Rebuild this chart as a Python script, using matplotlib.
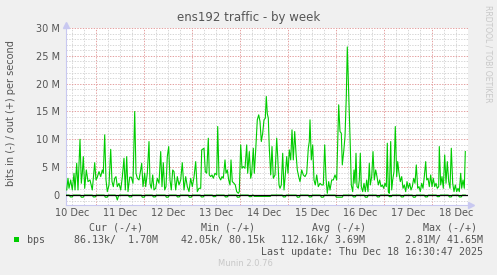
import matplotlib
matplotlib.use("Agg")
import matplotlib.pyplot as plt
from matplotlib.patches import Rectangle

# hours since 10 Dec 00:00, traffic in Mbit/s
out_hours = [9.2, 9.85, 10.35, 11.2, 12.0, 12.85, 13.35, 14.2, 14.85, 15.85, 16.5, 17.0, 17.5, 18.2,
             19.0, 19.85, 20.85, 22.0, 23.2, 23.85, 24.5, 25.35, 26.2, 27.0, 27.5, 28.2, 28.85, 29.5,
             30.35, 31.2, 31.85, 32.5, 33.2, 33.85, 34.5, 35.35, 36.2, 37.0, 37.85, 38.5, 39.2, 39.85,
             40.7, 41.5, 42.35, 43.2, 43.85, 44.5, 45.35, 46.2, 46.7, 47.35, 48.2, 48.7, 49.5, 50.35,
             50.85, 51.5, 52.2, 52.85, 53.7, 54.5, 55.35, 56.2, 56.85, 57.5, 58.2, 58.85, 59.5, 60.2,
             60.85, 61.5, 62.2, 62.85, 63.7, 64.5, 65.35, 66.2, 67.0, 67.85, 68.7, 69.5, 70.35, 71.2,
             72.0, 72.85, 73.7, 74.5, 75.35, 76.2,
             76.7, 77.85, 78.5, 79.2, 80.0, 80.5, 81.2, 81.85, 82.5, 83.35, 84.2, 84.7, 85.35, 86.2,
             86.85, 87.5, 88.35, 88.85, 89.5, 90.2, 90.85, 91.35, 92.0, 92.85, 93.5, 94.2, 95.0, 95.5,
             96.2, 96.85, 97.5, 98.35, 99.2, 99.7, 100.5, 101.2, 101.7, 102.5, 103.0, 103.7, 104.5,
             105.2, 105.85, 106.5, 107.2, 107.85, 108.5, 109.0, 109.5, 110.0, 110.5, 111.2, 111.85,
             112.5, 113.35, 114.2, 114.7, 115.35, 115.85, 116.5, 117.2, 117.85, 118.5, 119.2, 119.85,
             120.5, 121.2, 121.85, 122.5, 123.2, 123.85, 124.5, 125.2, 125.85, 126.7, 127.5, 128.35,
             129.2, 130.0, 130.5, 130.85, 131.5, 132.2, 132.85, 133.5, 134.2, 135.0, 135.85, 136.7,
             137.5, 138.2, 138.85, 139.5, 140.2, 140.85, 141.7, 142.5, 143.35, 144.2,
             145.2, 145.85, 146.5, 147.0, 147.7, 148.35, 149.0, 149.5, 150.0, 150.5, 151.0, 151.5,
             152.2, 152.85, 153.35, 153.85, 154.35, 155.0, 155.5, 156.0, 156.5, 157.2, 157.85, 158.5,
             159.2, 159.85, 160.5, 161.0, 161.7, 162.35, 163.0, 163.7, 164.35, 165.0, 165.7, 166.35,
             167.0, 167.7, 168.35, 169.0, 169.5, 170.0, 170.5, 171.2, 171.7, 172.2, 172.85, 173.5,
             174.2, 174.7, 175.35, 176.0, 176.7, 177.35, 178.0, 178.7, 179.35, 180.0, 180.7, 181.35,
             182.0, 182.7, 183.35, 184.0, 184.7, 185.35, 186.0, 186.7, 187.35, 188.0, 188.7, 189.2,
             189.85, 190.5, 191.2, 191.85, 192.5, 193.2, 193.85, 194.5, 195.2, 195.5, 196.2, 196.85,
             197.5, 198.2, 198.85, 199.5, 200.2, 200.85, 201.5, 202.2, 202.85, 203.5, 204.2, 204.85,
             205.5, 206.2, 206.7, 207.35, 208.0, 208.5]
out_mbps = [0.9, 3.0, 1.2, 2.7, 0.9, 3.9, 0.9, 5.7, 0.9, 10.0, 2.1, 3.9, 6.9, 1.2,
            4.5, 2.4, 2.7, 0.9, 5.8, 2.7, 3.2, 4.2, 3.3, 4.5, 3.9, 10.8, 2.7, 0.6,
            1.8, 8.2, 2.4, 1.5, 3.0, 3.3, 1.5, 2.1, 0.9, 3.2, 6.6, 0.9, 6.9, 0.6,
            3.2, 3.2, 2.1, 15.0, 3.9, 3.0, 2.7, 4.5, 5.7, 1.5, 3.9, 1.5, 3.9, 9.6,
            2.1, 1.2, 3.6, 0.9, 1.2, 3.0, 2.1, 7.8, 1.5, 5.8, 0.9, 1.5, 6.9, 8.7,
            2.7, 0.9, 4.5, 4.2, 0.9, 3.3, 1.8, 2.7, 5.8, 0.9, 3.3, 1.5, 0.6, 3.0,
            1.5, 3.2, 6.0, 0.6, 1.2, 1.2,
            8.1, 8.4, 4.2, 3.9, 10.2, 3.6, 3.3, 3.6, 3.0, 3.9, 3.6, 12.3, 3.3, 2.7,
            3.3, 3.0, 6.3, 3.9, 4.5, 2.7, 1.8, 6.3, 2.4, 2.1, 1.8, 0.6, 0.3, 0.6,
            9.0, 4.8, 5.1, 4.8, 9.0, 3.9, 7.8, 3.0, 3.9, 8.4, 3.9, 8.1, 13.5,
            14.4, 13.2, 9.6, 11.1, 13.5, 13.8, 17.7, 14.6, 13.8, 8.4, 3.6, 8.7,
            3.0, 3.6, 10.2, 6.9, 1.8, 1.2, 1.8, 7.5, 0.9, 3.6, 6.9, 3.9,
            8.1, 6.3, 11.7, 6.3, 11.4, 7.5, 4.5, 3.3, 2.4, 4.5, 3.6, 3.3,
            3.9, 8.4, 9.6, 13.5, 6.3, 9.0, 2.7, 1.8, 3.6, 1.5, 2.1, 1.8,
            1.8, 9.0, 3.0, 0.3, 2.4, 0.9, 2.7, 2.7, 3.6, 2.7,
            16.2, 11.4, 11.1, 5.4, 7.8, 10.5, 17.7, 26.6, 20.6, 14.4, 8.7, 1.8,
            0.6, 4.5, 2.1, 7.5, 1.5, 1.2, 2.7, 7.5, 1.5, 0.6, 2.1, 0.6,
            2.7, 0.6, 5.7, 1.8, 3.3, 7.8, 2.7, 4.5, 3.3, 1.8, 2.7, 1.5,
            1.8, 1.2, 2.1, 1.5, 9.3, 0.6, 0.3, 9.6, 0.9, 2.7, 4.2, 12.3,
            3.3, 6.0, 3.9, 2.4, 3.3, 1.2, 1.8, 0.6, 2.4, 1.2, 2.1, 0.9,
            1.5, 3.0, 2.1, 5.4, 1.2, 1.5, 0.6, 2.1, 1.2, 3.3, 6.0, 2.7,
            3.0, 1.5, 3.6, 1.5, 3.0, 1.5, 2.1, 1.2, 1.5, 8.7, 1.8, 3.3,
            1.2, 7.2, 2.1, 6.0, 2.4, 1.2, 8.4, 2.1, 0.6, 1.8, 0.6, 1.2,
            0.6, 3.9, 1.2, 2.7, 1.2, 7.8]

# inbound traffic, drawn below zero
in_hours = [9.0,
            10.5, 11.0, 12.0, 12.5,
            16.0, 16.5, 17.5, 18.0,
            22.0, 22.5, 23.5, 24.0,
            28.0, 28.5, 29.5, 30.0,
            33.5, 34.0, 34.5, 35.0, 35.5,
            40.0, 40.5, 41.5, 42.0,
            46.5, 47.0, 48.0, 48.5,
            52.0, 52.5, 53.5, 54.0,
            58.5, 59.0, 60.0, 60.5,
            64.0, 64.5, 65.5, 66.0,
            70.0, 70.5, 71.5, 72.0,
            76.0, 76.5, 77.5, 78.0,
            82.0, 82.5, 83.5, 84.0,
            88.0, 88.5, 89.5, 90.0,
            94.0, 94.5, 95.5, 96.0,
            100.0, 100.5, 101.5, 102.0,
            102.5, 103.0, 111.0, 111.5,
            117.0, 117.5, 118.5, 119.0,
            124.0, 124.5, 125.5, 126.0,
            130.0, 130.5, 131.5, 132.0,
            136.0, 136.5, 137.5, 138.0,
            143.5, 144.0, 147.0, 147.5,
            152.0, 152.5, 153.5, 154.0,
            158.0, 158.5, 159.5, 160.0,
            164.0, 164.5, 165.5, 166.0,
            170.0, 170.5, 171.5, 172.0,
            176.0, 176.5, 177.5, 178.0,
            182.0, 182.5, 183.5, 184.0,
            188.0, 188.5, 189.5, 190.0,
            194.0, 194.5, 195.5, 196.0,
            200.0, 200.5, 201.5, 202.0,
            205.0, 205.5, 206.5, 207.0,
            208.5]
in_mbps = [0.02,
           0.02, 0.35, 0.35, 0.02,
           0.02, 0.4, 0.4, 0.02,
           0.02, 0.35, 0.35, 0.02,
           0.02, 0.4, 0.4, 0.02,
           0.02, 0.3, 0.9, 0.3, 0.02,
           0.02, 0.35, 0.35, 0.02,
           0.02, 0.4, 0.4, 0.02,
           0.02, 0.35, 0.35, 0.02,
           0.02, 0.4, 0.4, 0.02,
           0.02, 0.35, 0.35, 0.02,
           0.02, 0.4, 0.4, 0.02,
           0.02, 0.35, 0.35, 0.02,
           0.02, 0.3, 0.3, 0.02,
           0.02, 0.35, 0.35, 0.02,
           0.02, 0.4, 0.4, 0.02,
           0.02, 0.3, 0.3, 0.02,
           0.02, 0.25, 0.25, 0.02,
           0.02, 0.35, 0.35, 0.02,
           0.02, 0.4, 0.4, 0.02,
           0.02, 0.35, 0.35, 0.02,
           0.02, 0.4, 0.4, 0.02,
           0.02, 0.4, 0.4, 0.02,
           0.02, 0.35, 0.35, 0.02,
           0.02, 0.4, 0.4, 0.02,
           0.02, 0.35, 0.35, 0.02,
           0.02, 0.3, 0.3, 0.02,
           0.02, 0.35, 0.35, 0.02,
           0.02, 0.4, 0.4, 0.02,
           0.02, 0.35, 0.35, 0.02,
           0.02, 0.3, 0.3, 0.02,
           0.02, 0.35, 0.35, 0.02,
           0.02, 0.35, 0.35, 0.02,
           0.02]

y_ticks = [0, 5, 10, 15, 20, 25, 30]
y_labels = ["0", "5 M", "10 M", "15 M", "20 M", "25 M", "30 M"]
day_labels = ["10 Dec", "11 Dec", "12 Dec", "13 Dec", "14 Dec", "15 Dec", "16 Dec", "17 Dec", "18 Dec"]

W, H = 497, 275
fig = plt.figure(figsize=(W / 100, H / 100), dpi=100, facecolor="#F0F0F0")

def fx(px):
    return px / W

def fy(py):
    return 1 - py / H

ax = fig.add_axes([fx(66), fy(205), fx(402), 177 / H])
ax.set_facecolor("white")
ax.set_xlim(8.85, 209.85)
ax.set_ylim(-1.8, 30.0)

# grid like rrdtool: minor every 6 h / 1 M, major every day / 5 M
for h in range(12, 210, 6):
    major = h % 24 == 0
    ax.axvline(h, color="#E4A0A0" if major else "#D6D6D6", lw=0.7,
               ls=(0, (1.4, 1.4)), zorder=1)
for m in range(-1, 31):
    major = m % 5 == 0
    ax.axhline(m, color="#E4A0A0" if major else "#D6D6D6", lw=0.7,
               ls=(0, (1.4, 1.4)), zorder=1)

ax.plot(out_hours, out_mbps, color="#00CC00", lw=0.8, zorder=3)
ax.plot(in_hours, [-v for v in in_mbps], color="#00CC00", lw=0.8, zorder=3)
ax.axhline(0, color="black", lw=0.9, zorder=4)

for s in ["top", "right"]:
    ax.spines[s].set_visible(False)
for s in ["left", "bottom"]:
    ax.spines[s].set_color("#C8C8F0")
    ax.spines[s].set_linewidth(0.8)
ax.plot([8.85], [30.6], marker="^", ms=4, color="#C8C8F0", clip_on=False)
ax.plot([211.2], [-1.8], marker=">", ms=4, color="#C8C8F0", clip_on=False)

ax.set_yticks(y_ticks, y_labels)
ax.set_xticks([12 + 24 * i for i in range(len(day_labels))], day_labels)
ax.tick_params(length=0, labelsize=7, colors="#555555")
ax.tick_params(axis="y", pad=4.5)
ax.tick_params(axis="x", pad=2.5)

fig.text(fx(249), fy(18), "ens192 traffic - by week", ha="center", va="center",
         fontsize=8.5, color="#555555")
fig.text(fx(11), fy(113), "bits in (-) / out (+) per second", rotation=90,
         ha="center", va="center", fontsize=7, color="#555555")
fig.text(fx(488), fy(5), "RRDTOOL / TOBI OETIKER", rotation=270, ha="center", va="top",
         fontsize=5.5, color="#C8C8C8")

mono = dict(family="DejaVu Sans Mono", fontsize=7.2, color="#555555", va="center")
fig.text(fx(89), fy(228), "Cur (-/+)", ha="left", **mono)
fig.text(fx(201), fy(228), "Min (-/+)", ha="left", **mono)
fig.text(fx(312), fy(228), "Avg (-/+)", ha="left", **mono)
fig.text(fx(423), fy(228), "Max (-/+)", ha="left", **mono)
fig.patches.append(Rectangle((fx(14), fy(242)), fx(5), 5 / H, transform=fig.transFigure,
                             facecolor="#00CC00", edgecolor="none"))
fig.text(fx(27), fy(240), "bps", ha="left", **mono)
fig.text(fx(158), fy(240), "86.13k/  1.70M", ha="right", **mono)
fig.text(fx(265), fy(240), "42.05k/ 80.15k", ha="right", **mono)
fig.text(fx(365), fy(240), "112.16k/ 3.69M", ha="right", **mono)
fig.text(fx(483), fy(240), "2.81M/ 41.65M", ha="right", **mono)
fig.text(fx(483), fy(252), "Last update: Thu Dec 18 16:30:47 2025", ha="right", **mono)
fig.text(fx(273), fy(264), "Munin 2.0.76", ha="right", va="center", fontsize=6,
         color="#C8C8C8")

fig.savefig("out.png", dpi=100, facecolor=fig.get_facecolor())
